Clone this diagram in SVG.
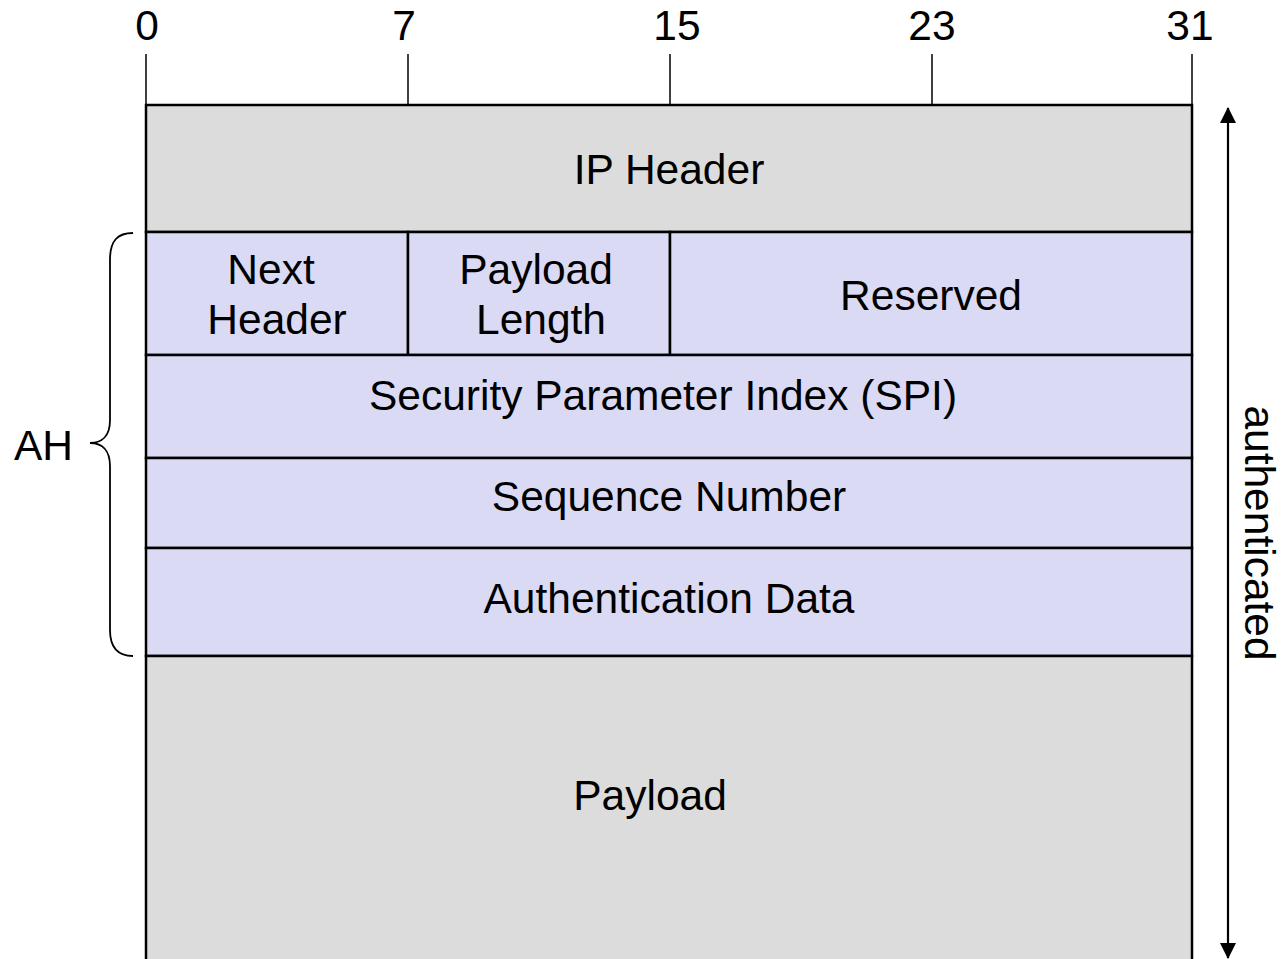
<svg xmlns="http://www.w3.org/2000/svg" width="1283" height="959" viewBox="0 0 1283 959">
<style>
text{font-family:"Liberation Sans",Arial,sans-serif;font-size:42.5px;fill:#000}
.c{text-anchor:middle}
.gray{fill:#DCDCDC;stroke:#000;stroke-width:2.5}
.lav{fill:#DADAF4;stroke:#000;stroke-width:2.5}
.tick{stroke:#000;stroke-width:1.5}
</style>
<defs>
<marker id="ah" viewBox="0 0 16 16" refX="15" refY="8" markerWidth="16" markerHeight="16" markerUnits="userSpaceOnUse" orient="auto-start-reverse">
<path d="M0,0 L16,8 L0,16 Z" fill="#000"/>
</marker>
</defs>
<g id="scale">
<line class="tick" x1="146" y1="54" x2="146" y2="105"/>
<line class="tick" x1="408" y1="54" x2="408" y2="105"/>
<line class="tick" x1="670" y1="54" x2="670" y2="105"/>
<line class="tick" x1="932" y1="54" x2="932" y2="105"/>
<line class="tick" x1="1192" y1="54" x2="1192" y2="105"/>
<text class="c" x="147" y="40">0</text>
<text class="c" x="404" y="40">7</text>
<text class="c" x="677" y="40">15</text>
<text class="c" x="932" y="40">23</text>
<text class="c" x="1190" y="40">31</text>
</g>
<g id="ip-header"><rect class="gray" x="146" y="105" width="1046" height="127"/><text class="c" x="669" y="184">IP Header</text></g>
<g id="next-header"><rect class="lav" x="146" y="232" width="262" height="123"/><text class="c" x="271" y="284">Next</text><text class="c" x="277" y="334">Header</text></g>
<g id="payload-length"><rect class="lav" x="408" y="232" width="262" height="123"/><text class="c" x="536" y="284">Payload</text><text class="c" x="541" y="334">Length</text></g>
<g id="reserved"><rect class="lav" x="670" y="232" width="522" height="123"/><text class="c" x="931" y="310">Reserved</text></g>
<g id="spi"><rect class="lav" x="146" y="355" width="1046" height="103"/><text class="c" x="663" y="410">Security Parameter Index (SPI)</text></g>
<g id="sequence"><rect class="lav" x="146" y="458" width="1046" height="90"/><text class="c" x="669" y="511">Sequence Number</text></g>
<g id="auth-data"><rect class="lav" x="146" y="548" width="1046" height="108"/><text class="c" x="669" y="613">Authentication Data</text></g>
<g id="payload"><rect class="gray" x="146" y="656" width="1046" height="320"/><text class="c" x="650" y="810">Payload</text></g>
<g id="ah-brace">
<path d="M133,233 C118,233 110,240 110,260 L110,420 C110,436 102,443 90,443 C102,443 110,450 110,466 L110,630 C110,648 118,656 133,656" fill="none" stroke="#000" stroke-width="1.8"/>
<text x="14" y="460">AH</text>
</g>
<g id="connectors">
<line x1="1228" y1="108" x2="1228" y2="958" stroke="#000" stroke-width="2.2" marker-start="url(#ah)" marker-end="url(#ah)"/>
<text class="c" transform="translate(1245,533) rotate(90)">authenticated</text>
</g>
</svg>
